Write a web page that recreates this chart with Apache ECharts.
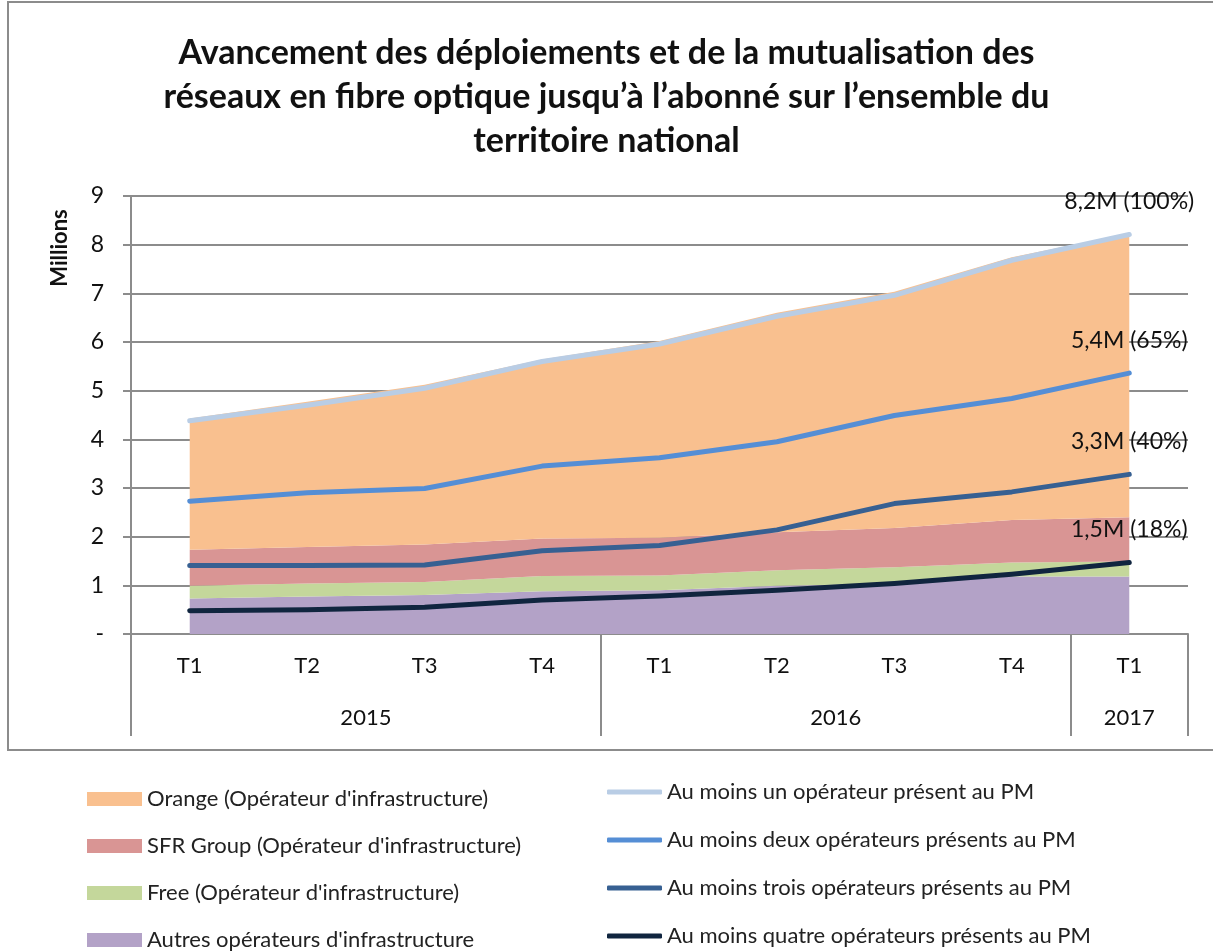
<!DOCTYPE html>
<html><head><meta charset="utf-8">
<script src="https://cdn.jsdelivr.net/npm/echarts@6/dist/echarts.min.js"></script>
<style>html,body{margin:0;padding:0;background:#fff}#c{width:1213px;height:951px}</style>
</head><body><div id="c"></div>
<script>
const quarters = ['T1','T2','T3','T4','T1','T2','T3','T4','T1'];
const years = ['2015','2016','2017'];
const yearCenters = [2, 6, 8.5];
const yearBounds = [0, 4, 8, 9];

const autres = [0.73, 0.77, 0.80, 0.88, 0.90, 0.99, 1.03, 1.18, 1.18];
const free   = [0.26, 0.27, 0.27, 0.31, 0.30, 0.32, 0.34, 0.29, 0.31];
const sfr    = [0.74, 0.75, 0.77, 0.77, 0.78, 0.78, 0.81, 0.87, 0.91];
const orange = [2.70, 2.98, 3.28, 3.68, 4.04, 4.51, 4.85, 5.40, 5.83];

const auMoinsUn     = [4.38, 4.70, 5.05, 5.60, 5.96, 6.53, 6.96, 7.68, 8.21];
const auMoinsDeux   = [2.73, 2.90, 2.99, 3.45, 3.62, 3.95, 4.49, 4.84, 5.36];
const auMoinsTrois  = [1.41, 1.41, 1.42, 1.71, 1.82, 2.14, 2.68, 2.92, 3.28];
const auMoinsQuatre = [0.48, 0.50, 0.55, 0.70, 0.78, 0.90, 1.04, 1.23, 1.47];

const endLabels = ['8,2M (100%)', '5,4M (65%)', '3,3M (40%)', '1,5M (18%)'];

const areaNames = ['Autres opérateurs d\'infrastructure','Free (Opérateur d\'infrastructure)','SFR Group (Opérateur d\'infrastructure)','Orange (Opérateur d\'infrastructure)'];
const lineNames = ['Au moins un opérateur présent au PM','Au moins deux opérateurs présents au PM','Au moins trois opérateurs présents au PM','Au moins quatre opérateurs présents au PM'];

const FONT = 'Lato';
const chart = echarts.init(document.getElementById('c'));

function area(name, data, color) {
  return { name, type: 'line', stack: 'a', data, showSymbol: false, symbol: 'none',
    lineStyle: { width: 0 }, itemStyle: { color }, areaStyle: { color, opacity: 1 },
    emphasis: { disabled: true }, z: 1 };
}
function line(name, data, color, lbl) {
  return { name, type: 'line', data, showSymbol: true, symbol: 'circle', symbolSize: 0.1,
    lineStyle: { width: 5, color, cap: 'round', join: 'round' }, itemStyle: { color },
    emphasis: { disabled: true }, z: 3,
    label: { show: true, position: 'top', distance: 21, color: '#111', fontFamily: FONT, fontSize: 23,
      formatter: p => p.dataIndex === data.length - 1 ? lbl : '' } };
}

chart.setOption({
  animation: false,
  backgroundColor: '#fff',
  title: {
    text: 'Avancement des déploiements et de la mutualisation des\nréseaux en fibre optique jusqu’à l’abonné sur l’ensemble du\nterritoire national',
    left: 'center', top: 26,
    textStyle: { fontFamily: FONT, fontSize: 34, fontWeight: 'bold', color: '#111', lineHeight: 44 }
  },
  grid: { left: 131, right: 25, top: 196, bottom: 317 },
  legend: [
    { data: areaNames.slice().reverse(), orient: 'vertical', left: 82, top: 783, height: 400, itemWidth: 55, itemHeight: 14,
      icon: 'rect', itemGap: 25, textStyle: { fontFamily: FONT, fontSize: 22, color: '#222' } },
    { data: lineNames, orient: 'vertical', left: 602, top: 776, height: 400, itemWidth: 55, itemHeight: 5,
      icon: 'roundRect', itemGap: 26, textStyle: { fontFamily: FONT, fontSize: 22, color: '#222' } }
  ],
  xAxis: [
    { type: 'category', data: quarters, boundaryGap: true, position: 'bottom',
      axisLine: { lineStyle: { color: '#8c8c8c', width: 2 } },
      axisTick: { interval: 0, length: 50, lineStyle: { color: '#8c8c8c', width: 2 } },
      axisLabel: { interval: 0, margin: 21, color: '#111', fontFamily: FONT, fontSize: 22 },
      splitLine: { show: false } },
    { type: 'value', min: 0, max: 9, position: 'bottom',
      axisLine: { show: false },
      axisTick: { show: true, customValues: yearBounds, length: 102, lineStyle: { color: '#8c8c8c', width: 2 } },
      axisLabel: { customValues: yearCenters, margin: 73, color: '#111', fontFamily: FONT, fontSize: 22,
        formatter: v => years[yearCenters.indexOf(v)] },
      splitLine: { show: false } }
  ],
  yAxis: {
    type: 'value', min: 0, max: 9, interval: 1,
    axisLine: { show: true, lineStyle: { color: '#8c8c8c', width: 2 } },
    axisTick: { show: true, length: 8, inside: false, lineStyle: { color: '#8c8c8c', width: 2 } },
    axisLabel: { margin: 27, color: '#111', fontFamily: FONT, fontSize: 23,
      formatter: v => v === 0 ? '-' : String(v) },
    splitLine: { show: true, lineStyle: { color: '#8c8c8c', width: 2 } }
  },
  graphic: [
    { type: 'rect', shape: { x: 8, y: 2, width: 1230, height: 748 }, style: { fill: 'none', stroke: '#8c8c8c', lineWidth: 2 }, z: -1, silent: true },
    { type: 'text', x: 60, y: 248, rotation: Math.PI / 2, style: { text: 'Millions', fontFamily: FONT, fontSize: 22, fontWeight: 'bold', fill: '#111', align: 'center', verticalAlign: 'middle' } }
  ],
  series: [
    area(areaNames[0], autres, '#B3A2C7'),
    area(areaNames[1], free, '#C4D79B'),
    area(areaNames[2], sfr, '#D99594'),
    area(areaNames[3], orange, '#F9C08F'),
    line(lineNames[0], auMoinsUn, '#B9CDE5', endLabels[0]),
    line(lineNames[1], auMoinsDeux, '#558ED5', endLabels[1]),
    line(lineNames[2], auMoinsTrois, '#376092', endLabels[2]),
    line(lineNames[3], auMoinsQuatre, '#10253F', endLabels[3])
  ]
});
</script></body></html>
